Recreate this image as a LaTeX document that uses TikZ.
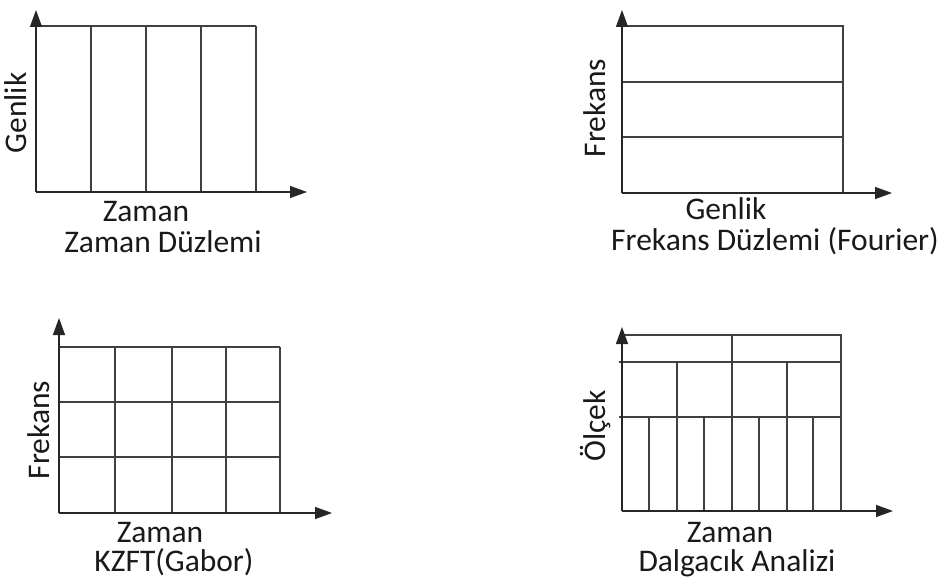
\documentclass[tikz,border=0pt]{standalone}
\usepackage{fontspec}
\setmainfont{Carlito}
\usetikzlibrary{arrows.meta}

\begin{document}
\begin{tikzpicture}[
  x=1pt, y=-1pt,
  font=\fontsize{31.5}{33}\selectfont,
  axis/.style={draw=black!85, line width=1.4pt, -{Triangle[length=17pt, width=12pt]}},
  cell/.style={draw=black!75, line width=1.4pt},
  lbl/.style={anchor=base, inner sep=0pt, text=black!90, text height=0.64em, text depth=0.18em},
  ylbl/.style={lbl, rotate=90},
]
\useasboundingbox (0,0) rectangle (941,583);

% Zaman Duzlemi
\coordinate (o1) at (36,192);
\coordinate (x1) at (307,192);
\coordinate (y1) at (36,10);
\draw[cell] (36,26) -- (256,26);
\foreach \gx in {91,146,201,256} \draw[cell] (\gx,26) -- (\gx,192);
\draw[axis] (o1) -- (x1);
\draw[axis] (o1) -- (y1);
\node[lbl]  (zx1) at (146,221) {Zaman};
\node[lbl]  (zc1) at (163,252) {Zaman Düzlemi};
\node[ylbl] (zy1) at (27,113)  {Genlik};

% Frekans Duzlemi
\coordinate (o2) at (622,193);
\coordinate (x2) at (892,193);
\coordinate (y2) at (622,10);
\draw[cell] (622,26) -- (843,26) -- (843,193);
\foreach \gy in {82,137} \draw[cell] (622,\gy) -- (843,\gy);
\draw[axis] (o2) -- (x2);
\draw[axis] (o2) -- (y2);
\node[lbl]  (fx2) at (726,219) {Genlik};
\node[lbl]  (fc2) at (775,250) {Frekans Düzlemi (Fourier)};
\node[ylbl] (fy2) at (605,108) {Frekans};

% KZFT
\coordinate (o3) at (59,513);
\coordinate (x3) at (332,513);
\coordinate (y3) at (59,318);
\draw[cell] (59,347) -- (280,347);
\foreach \gx in {115,172,226,280} \draw[cell] (\gx,347) -- (\gx,513);
\foreach \gy in {402,457} \draw[cell] (59,\gy) -- (280,\gy);
\draw[axis] (o3) -- (x3);
\draw[axis] (o3) -- (y3);
\node[lbl]  (kx3) at (160,542) {Zaman};
\node[lbl]  (kc3) at (174,571) {KZFT(Gabor)};
\node[ylbl] (ky3) at (49,430)  {Frekans};

% Dalgacik
\coordinate (o4) at (622,511);
\coordinate (x4) at (893,511);
\coordinate (y4) at (622,327);
\draw[cell] (622,335) -- (841,335) -- (841,511);
\foreach \gy in {362,417} \draw[cell] (619,\gy) -- (841,\gy);
\draw[cell] (732,335) -- (732,511);
\foreach \gx in {677,787} \draw[cell] (\gx,362) -- (\gx,511);
\foreach \gx in {649,704,759,813} \draw[cell] (\gx,417) -- (\gx,511);
\draw[axis] (o4) -- (x4);
\draw[axis] (o4) -- (y4);
\node[lbl]  (dx4) at (730,542) {Zaman};
\node[lbl]  (dc4) at (737,571) {Dalgacık Analizi};
\node[ylbl] (dy4) at (605,426) {Ölçek};

\end{tikzpicture}
\end{document}
